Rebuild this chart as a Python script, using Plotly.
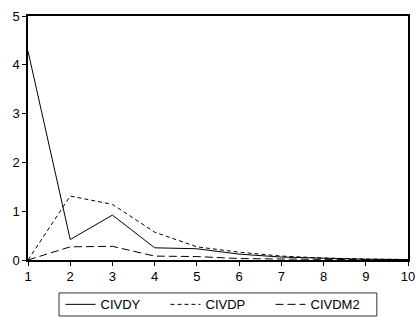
import plotly.graph_objects as go

periods = [1, 2, 3, 4, 5, 6, 7, 8, 9, 10]
civdy = [4.28, 0.42, 0.92, 0.25, 0.23, 0.12, 0.06, 0.03, 0.015, 0.01]
civdp = [0.0, 1.31, 1.14, 0.57, 0.27, 0.16, 0.08, 0.04, 0.02, 0.01]
civdm2 = [0.0, 0.27, 0.28, 0.08, 0.07, 0.03, 0.02, 0.01, 0.005, 0.0]

fig = go.Figure()
fig.add_trace(go.Scatter(x=periods, y=civdy, mode="lines", name="CIVDY",
                         line=dict(color="black", width=1)))
fig.add_trace(go.Scatter(x=periods, y=civdp, mode="lines", name="CIVDP",
                         line=dict(color="black", width=1, dash="4px,3px")))
fig.add_trace(go.Scatter(x=periods, y=civdm2, mode="lines", name="CIVDM2",
                         line=dict(color="black", width=1, dash="8px,4px")))

axis_common = dict(showgrid=False, zeroline=False, showline=True, linecolor="black",
                   linewidth=1.5, mirror=True, ticks="outside", ticklen=4,
                   tickcolor="black", automargin=False,
                   tickfont=dict(family="Liberation Sans, Arial", size=13, color="black"))
fig.update_xaxes(range=[1, 10], tickmode="array", tickvals=periods,
                 ticktext=[str(p) for p in periods], **axis_common)
fig.update_yaxes(range=[0, 5], tickmode="array", tickvals=[0, 1, 2, 3, 4, 5], **axis_common)

# legend frame box (paper coordinates)
fig.add_shape(type="rect", xref="paper", yref="paper",
              x0=0.0816, x1=0.918, y0=-0.2295, y1=-0.135,
              line=dict(color="#333333", width=1), fillcolor="rgba(0,0,0,0)", layer="above")

fig.update_layout(
    width=417, height=317,
    margin=dict(l=28, r=9, t=16, b=57, autoexpand=False),
    plot_bgcolor="white", paper_bgcolor="white",
    font=dict(family="Liberation Sans, Arial", size=13, color="black"),
    legend=dict(orientation="h", x=0.5, xanchor="center", y=-0.182, yanchor="middle",
                borderwidth=0, bgcolor="rgba(0,0,0,0)", font=dict(size=13),
                entrywidth=60, entrywidthmode="pixels", tracegroupgap=0),
    showlegend=True,
)

fig.write_html("out.html", config={"displayModeBar": False},
               post_script="document.body.style.margin='0';document.body.style.overflow='hidden';")
